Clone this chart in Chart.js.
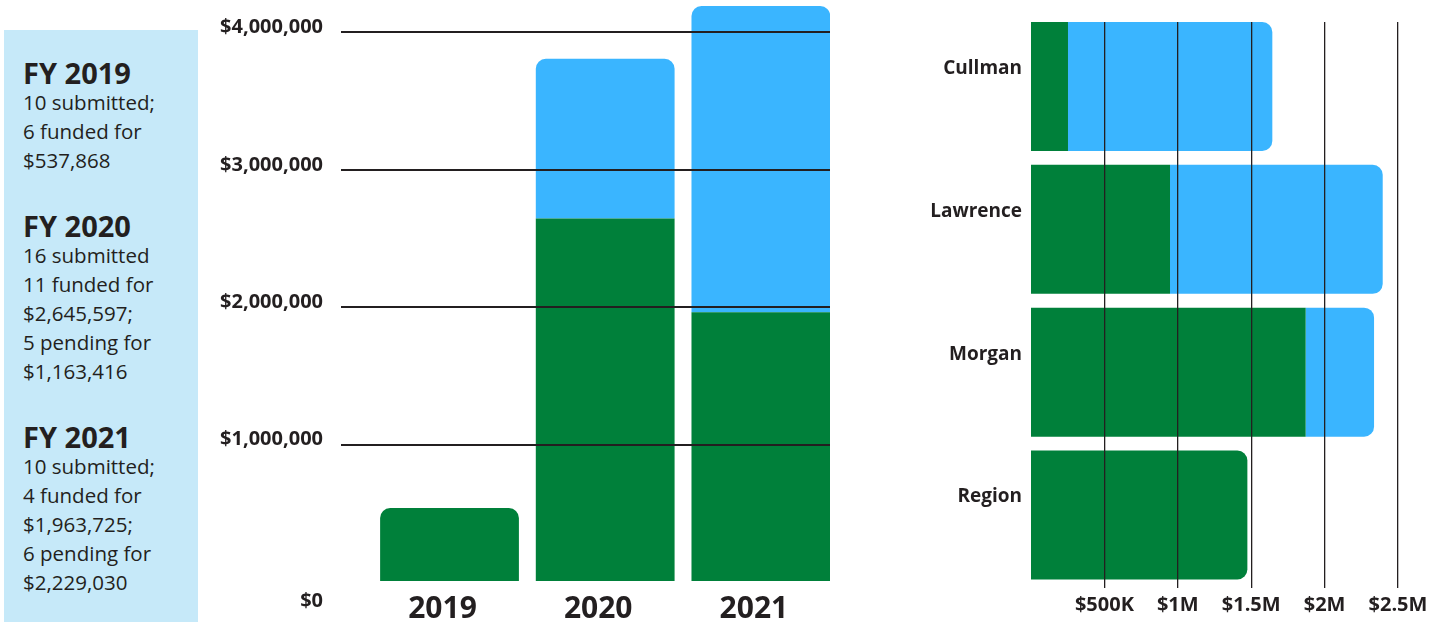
<!DOCTYPE html>
<html>
<head>
<meta charset="utf-8">
<script src="https://cdn.jsdelivr.net/npm/chart.js@4.4.1/dist/chart.umd.min.js"></script>
<style>
  html, body { margin: 0; padding: 0; background: #fff; }
  body { width: 1447px; height: 622px; position: relative; overflow: hidden;
         font-family: "Open Sans", sans-serif; color: #231f20; }
  #notes { position: absolute; left: 4px; top: 30px; width: 175px; height: 592px;
           background: #c6e9f9; padding: 27px 0 0 19px; }
  #notes .fy { margin-top: 35px; }
  #notes .fy:first-child { margin-top: 0; }
  #notes h2 { margin: 0; font-size: 29px; font-weight: 700; line-height: 31px; }
  #notes p { margin: 0; font-size: 20.5px; line-height: 29px; }
  #yearWrap { position: absolute; left: 200px; top: 0; }
  #countyWrap { position: absolute; left: 860px; top: 0; }
</style>
</head>
<body>
<div id="notes"></div>
<div id="yearWrap"><canvas id="yearChart" width="640" height="622"></canvas></div>
<div id="countyWrap"><canvas id="countyChart" width="587" height="622"></canvas></div>
<script>
// fiscal year summary text
const fyTitles = ["FY 2019", "FY 2020", "FY 2021"];
const fyNotes = [
  ["10 submitted;", "6 funded for", "$537,868"],
  ["16 submitted", "11 funded for", "$2,645,597;", "5 pending for", "$1,163,416"],
  ["10 submitted;", "4 funded for", "$1,963,725;", "6 pending for", "$2,229,030"]
];

// by year
const years = [2019, 2020, 2021];
const yearFunded = [537868, 2645597, 1963725];
const yearPending = [0, 1163416, 2229030];
const yearTicks = [0, 1000000, 2000000, 3000000, 4000000];

// by county
const counties = ["Cullman", "Lawrence", "Morgan", "Region"];
const countyFunded = [252000, 947000, 1871000, 1474000];
const countyPending = [1392000, 1449000, 466000, 0];
const countyTicks = [500000, 1000000, 1500000, 2000000, 2500000];
const countyTickLabels = ["$500K", "$1M", "$1.5M", "$2M", "$2.5M"];

const GREEN = "#00803a";
const BLUE = "#3ab5ff";
const INK = "#231f20";
const FONT = "'Open Sans', sans-serif";

const notes = document.getElementById("notes");
fyTitles.forEach((t, i) => {
  const block = document.createElement("div");
  block.className = "fy";
  const h = document.createElement("h2");
  h.textContent = t;
  block.appendChild(h);
  fyNotes[i].forEach(line => {
    const p = document.createElement("p");
    p.textContent = line;
    block.appendChild(p);
  });
  notes.appendChild(block);
});

new Chart(document.getElementById("yearChart"), {
  type: "bar",
  data: {
    labels: years,
    datasets: [
      { label: "Funded", data: yearFunded, backgroundColor: GREEN, borderRadius: 10,
        categoryPercentage: 1, barPercentage: 0.8915 },
      { label: "Pending", data: yearPending, backgroundColor: BLUE, borderRadius: 10,
        categoryPercentage: 1, barPercentage: 0.8915 }
    ]
  },
  options: {
    responsive: false,
    animation: false,
    layout: { padding: { top: 5, right: 10, left: 0, bottom: 0 } },
    plugins: { legend: { display: false }, tooltip: { enabled: false } },
    scales: {
      x: {
        type: "linear",
        stacked: true,
        offset: false,
        min: 2018.303,
        max: 2021.444,
        afterBuildTicks: a => { a.ticks = years.map(v => ({ value: v })); },
        afterFit: a => { a.height = 40; },
        grid: { display: false, drawTicks: false },
        border: { display: false },
        ticks: {
          callback: v => String(v),
          font: { family: FONT, size: 30, weight: "bold" },
          color: INK, padding: 9, labelOffset: -7, maxRotation: 0, autoSkip: false
        }
      },
      y: {
        stacked: true,
        min: 0,
        max: 4200000,
        afterBuildTicks: a => { a.ticks = yearTicks.map(v => ({ value: v })); },
        afterFit: a => { a.width = 141; a.paddingTop = 0; a.paddingBottom = 0; },
        grid: {
          color: ctx => ctx.tick && ctx.tick.value === 0 ? "rgba(0,0,0,0)" : INK,
          lineWidth: 2, drawTicks: false, z: 1
        },
        border: { display: false },
        ticks: {
          callback: v => v === 0 ? ["", "", "$0"] : "$" + v.toLocaleString("en-US"),
          font: { family: FONT, size: 20, weight: "bold" },
          color: INK, padding: 18, labelOffset: -5
        }
      }
    }
  }
});

new Chart(document.getElementById("countyChart"), {
  type: "bar",
  data: {
    datasets: [
      { label: "Funded", data: countyFunded.map((v, i) => ({ x: v, y: i })),
        backgroundColor: GREEN, borderRadius: 10, categoryPercentage: 1, barPercentage: 0.903 },
      { label: "Pending", data: countyPending.map((v, i) => ({ x: v, y: i })),
        backgroundColor: BLUE, borderRadius: 10, categoryPercentage: 1, barPercentage: 0.903 }
    ]
  },
  options: {
    indexAxis: "y",
    responsive: false,
    animation: false,
    layout: { padding: { top: 22, right: 27, left: 0, bottom: 0 } },
    plugins: { legend: { display: false }, tooltip: { enabled: false } },
    scales: {
      x: {
        type: "linear",
        stacked: true,
        min: 0,
        max: 2650000,
        afterBuildTicks: a => { a.ticks = countyTicks.map(v => ({ value: v })); },
        afterFit: a => { a.height = 34; },
        grid: { color: INK, lineWidth: 1.3, drawTicks: false, z: 1 },
        border: { display: false },
        ticks: {
          callback: (v, i) => countyTickLabels[i],
          font: { family: FONT, size: 20, weight: "bold" },
          color: INK, padding: 5, maxRotation: 0, autoSkip: false
        }
      },
      y: {
        type: "linear",
        reverse: true,
        stacked: true,
        offset: false,
        min: -0.4516,
        max: 3.511,
        afterBuildTicks: a => { a.ticks = counties.map((c, i) => ({ value: i })); },
        afterFit: a => { a.width = 171; },
        grid: { display: false, drawTicks: false },
        border: { display: false },
        ticks: {
          callback: v => counties[v],
          font: { family: FONT, size: 19, weight: "bold" },
          color: INK, padding: 9, labelOffset: -18, autoSkip: false
        }
      }
    }
  }
});
</script>
</body>
</html>
